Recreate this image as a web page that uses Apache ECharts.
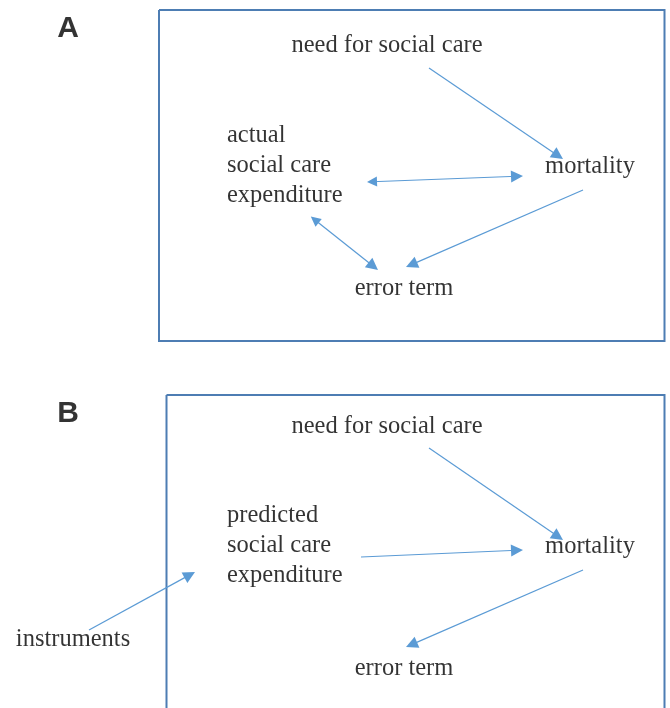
<!DOCTYPE html>
<html><head><meta charset="utf-8">
<script src="https://cdn.jsdelivr.net/npm/echarts@6/dist/echarts.min.js"></script>
<style>html,body{margin:0;padding:0;background:#fff}#c{width:670px;height:708px}</style>
</head><body><div id="c"></div>
<script>
// Panel letters
const panelLetters = [
  {text: 'A', x: 68, y: 29},
  {text: 'B', x: 68, y: 414}
];
// Frames (left, top, right, bottom)
const frameA = [159, 10, 664.5, 341];
const frameB = [166.5, 395, 664.5, 714];
// Node labels
const nodeLabels = [
  {text: 'need for social care', x: 387, y: 46, align: 'center'},
  {text: 'actual\nsocial care\nexpenditure', x: 227, y: 166, align: 'left'},
  {text: 'mortality', x: 590, y: 167, align: 'center'},
  {text: 'error term', x: 404, y: 289, align: 'center'},
  {text: 'need for social care', x: 387, y: 427, align: 'center'},
  {text: 'predicted\nsocial care\nexpenditure', x: 227, y: 546, align: 'left'},
  {text: 'mortality', x: 590, y: 547, align: 'center'},
  {text: 'instruments', x: 73, y: 640, align: 'center'},
  {text: 'error term', x: 404, y: 669, align: 'center'}
];
// One-way arrows [fromX, fromY, tipX, tipY]
const singleArrows = [
  [429, 68, 563, 159],
  [583, 190, 406, 267],
  [429, 448, 563, 540],
  [361, 557, 523, 550],
  [89, 630, 195, 572],
  [583, 570, 406, 647]
];
// Two-way arrows [tipX, tipY, tipX, tipY]
const doubleArrows = [
  [366, 182, 523, 176],
  [310, 216, 378, 270]
];

const arrowColor = '#5b9bd5';
const frameColor = '#4d7db3';
const serif = "'Liberation Serif', 'Times New Roman', serif";
const headLen = 12, headW = 10;

function rectCoords(r) {
  return [[r[0], r[1]], [r[2], r[1]], [r[2], r[3]], [r[0], r[3]], [r[0], r[1]]];
}
// move a tip point back so the arrowhead (centred on the end point) ends at the tip
function pull(px, py, qx, qy, d) {
  const dx = px - qx, dy = py - qy, L = Math.hypot(dx, dy);
  return [px - dx / L * d, py - dy / L * d];
}

const chart = echarts.init(document.getElementById('c'), null, {renderer: 'canvas'});
chart.setOption({
  animation: false,
  backgroundColor: '#fff',
  grid: {left: 0, right: 0, top: 0, bottom: 0},
  xAxis: {type: 'value', min: 0, max: 670, show: false},
  yAxis: {type: 'value', min: 0, max: 708, inverse: true, show: false},
  series: [
    {
      type: 'lines', coordinateSystem: 'cartesian2d', polyline: true, silent: true,
      lineStyle: {color: frameColor, width: 2, opacity: 1},
      data: [{coords: rectCoords(frameA)}, {coords: rectCoords(frameB)}]
    },
    {
      type: 'lines', coordinateSystem: 'cartesian2d', silent: true,
      symbol: ['none', 'triangle'], symbolSize: [headW, headLen],
      lineStyle: {color: arrowColor, width: 1.2, opacity: 1},
      itemStyle: {color: arrowColor},
      data: singleArrows.map(a => ({coords: [[a[0], a[1]], pull(a[2], a[3], a[0], a[1], headLen / 2)]}))
    },
    {
      type: 'lines', coordinateSystem: 'cartesian2d', silent: true,
      symbol: ['triangle', 'triangle'], symbolSize: [headW, headLen],
      lineStyle: {color: arrowColor, width: 1.2, opacity: 1},
      itemStyle: {color: arrowColor},
      data: doubleArrows.map(a => ({coords: [pull(a[0], a[1], a[2], a[3], headLen / 2), pull(a[2], a[3], a[0], a[1], headLen / 2)]}))
    },
    {
      type: 'scatter', symbolSize: 0, silent: true,
      itemStyle: {color: '#000'},
      data: nodeLabels.map(n => ({
        value: [n.x, n.y], name: n.text,
        label: {align: n.align}
      })),
      label: {
        show: true, position: 'inside', formatter: p => p.name,
        color: '#000', textBorderWidth: 0, fontFamily: serif, fontSize: 24.5, lineHeight: 30,
        verticalAlign: 'middle'
      }
    },
    {
      type: 'scatter', symbolSize: 0, silent: true,
      itemStyle: {color: '#000'},
      data: panelLetters.map(n => ({value: [n.x, n.y], name: n.text})),
      label: {
        show: true, position: 'inside', formatter: p => p.name,
        color: '#000', textBorderWidth: 0, fontFamily: "'Liberation Sans', Arial, sans-serif", fontSize: 30, fontWeight: 'bold',
        align: 'center', verticalAlign: 'middle'
      }
    }
  ]
});
</script></body></html>
